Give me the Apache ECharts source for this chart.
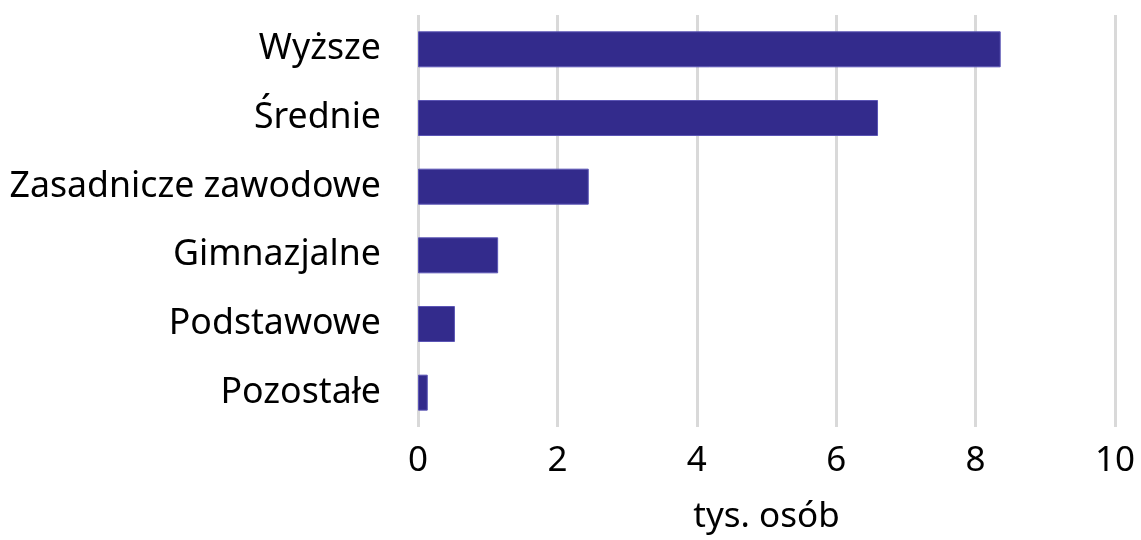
<!DOCTYPE html>
<html>
<head>
<meta charset="utf-8">
<title>Wykształcenie</title>
<script src="https://cdn.jsdelivr.net/npm/echarts@6/dist/echarts.min.js"></script>
<style>
  html, body { margin: 0; padding: 0; background: #fff; }
  #main { width: 1141px; height: 540px; }
</style>
</head>
<body>
<div id="main"></div>
<script>
var categories = ['Wyższe', 'Średnie', 'Zasadnicze zawodowe', 'Gimnazjalne', 'Podstawowe', 'Pozostałe'];
var values = [8.36, 6.60, 2.45, 1.15, 0.53, 0.14];
var xTicks = [0, 2, 4, 6, 8, 10];

var font = '"Noto Sans", "DejaVu Sans", sans-serif';
var chart = echarts.init(document.getElementById('main'));

chart.setOption({
  animation: false,
  grid: { left: 418, right: 26, top: 15, bottom: 105 },
  xAxis: {
    type: 'value',
    min: xTicks[0],
    max: xTicks[xTicks.length - 1],
    interval: 2,
    name: 'tys. osób',
    nameLocation: 'middle',
    nameGap: 73,
    nameTextStyle: { fontFamily: font, fontSize: 35, color: '#000' },
    axisLine: { show: false },
    axisTick: { show: false },
    axisLabel: { fontFamily: font, fontSize: 35, color: '#000', margin: 17 },
    splitLine: { show: true, lineStyle: { color: '#d9d9d9', width: 3 } }
  },
  yAxis: {
    type: 'category',
    data: categories,
    inverse: true,
    axisLine: { show: false },
    axisTick: { show: false },
    axisLabel: { fontFamily: font, fontSize: 35.7, color: '#000', margin: 37 }
  },
  series: [{
    type: 'bar',
    data: values,
    barWidth: 36,
    itemStyle: { color: '#332b8c', borderColor: '#5b55b5', borderWidth: 1 }
  }]
});
</script>
</body>
</html>
